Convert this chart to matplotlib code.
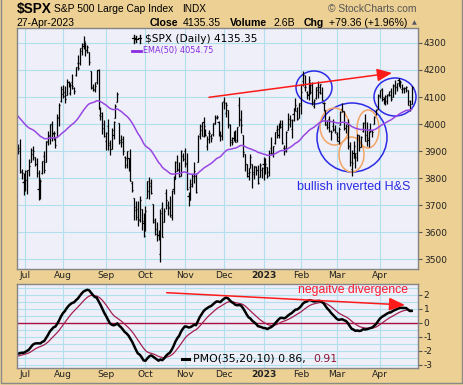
import numpy as np
import pandas as pd
import matplotlib
matplotlib.use("Agg")
import matplotlib.pyplot as plt
from matplotlib.patches import Ellipse, Rectangle
from matplotlib.lines import Line2D

plt.rcParams['axes.unicode_minus'] = False

# $SPX daily bars 27-Jun-2022 .. 27-Apr-2023 (one row per month)
opens = [
    3920, 3913, 3825, 3785,
    3781, 3792, 3831, 3859, 3888, 3880, 3851, 3762, 3763, 3819, 3883, 3860, 3935, 3955, 3999, 3966, 3954, 3951, 4026, 4087,
    4112, 4105, 4107, 4154, 4116, 4156, 4133, 4181, 4227, 4225, 4270, 4290, 4281, 4273, 4267, 4195, 4134, 4126, 4154, 4199, 4034, 4041, 4001,
    3937, 3994, 3930, 3909, 3959, 4022, 4083, 4005, 3940, 3933, 3880, 3849, 3875, 3872, 3782, 3727, 3682, 3686, 3651, 3687, 3633,
    3610, 3728, 3754, 3771, 3706, 3647, 3595, 3590, 3521, 3690, 3638, 3746, 3703, 3689, 3657, 3762, 3799, 3825, 3835, 3808, 3882,
    3901, 3853, 3734, 3766, 3780, 3817, 3810, 3859, 3963, 3977, 4007, 3976, 3920, 3967, 3956, 3965, 4001, 4024, 4006, 3964, 3958,
    4087, 4041, 4052, 3996, 3934, 3947, 3954, 3940, 4069, 4016, 3958, 3890, 3853, 3810, 3839, 3853, 3815, 3843, 3829, 3805, 3829,
    3853, 3840, 3840, 3823, 3910, 3888, 3932, 3977, 3960, 3999, 4002, 3911, 3910, 3979, 4001, 3982, 4036, 4053, 4049, 4021,
    4071, 4158, 4136, 4119, 4106, 4153, 4144, 4068, 4096, 4127, 4119, 4115, 4077, 4052, 4002, 4019, 3973, 3992, 3977,
    3963, 3938, 3998, 4055, 4049, 3987, 3999, 3918, 3835, 3895, 3876, 3878, 3958, 3917, 3975, 4003, 3959, 3940, 3982, 3974, 3999, 4047, 4056,
    4102, 4128, 4094, 4081, 4085, 4111, 4121, 4101, 4140, 4137, 4164, 4140, 4131, 4133, 4132, 4126, 4087, 4075,
]
highs = [
    3927, 3945, 3836, 3818,
    3829, 3832, 3870, 3910, 3918, 3880, 3873, 3829, 3796, 3863, 3902, 3939, 3975, 3999, 4012, 3975, 3954, 4039, 4078, 4140,
    4144, 4140, 4167, 4161, 4152, 4186, 4137, 4211, 4257, 4281, 4301, 4325, 4302, 4293, 4267, 4195, 4150, 4156, 4200, 4204, 4062, 4044, 4015,
    3970, 4019, 3942, 3987, 4011, 4076, 4119, 4005, 3961, 3956, 3881, 3900, 3876, 3907, 3790, 3727, 3716, 3717, 3736, 3687, 3671,
    3698, 3791, 3806, 3798, 3706, 3652, 3640, 3608, 3685, 3712, 3689, 3762, 3717, 3736, 3758, 3810, 3862, 3886, 3859, 3905, 3893,
    3911, 3894, 3750, 3797, 3814, 3859, 3818, 3959, 4001, 4008, 4028, 3983, 3955, 3979, 3962, 4005, 4034, 4035, 4012, 3976, 4081,
    4101, 4080, 4053, 4002, 3951, 3974, 3977, 3991, 4100, 4053, 3959, 3890, 3854, 3839, 3889, 3853, 3845, 3846, 3849, 3858, 3840,
    3879, 3873, 3840, 3906, 3951, 3920, 3970, 3998, 4003, 4015, 4015, 3922, 3973, 4040, 4033, 4020, 4061, 4095, 4063, 4077,
    4148, 4195, 4182, 4124, 4176, 4156, 4157, 4094, 4138, 4159, 4149, 4136, 4081, 4052, 4017, 4029, 3979, 4018, 3997,
    3972, 3990, 4048, 4079, 4050, 4000, 4018, 3935, 3906, 3937, 3894, 3964, 3959, 3956, 4009, 4039, 4007, 3973, 4003, 3979, 4030, 4057, 4110,
    4127, 4133, 4099, 4107, 4110, 4124, 4133, 4150, 4164, 4152, 4169, 4162, 4149, 4138, 4142, 4126, 4089, 4139,
]
lows = [
    3889, 3820, 3799, 3738,
    3752, 3742, 3809, 3859, 3867, 3847, 3803, 3721, 3723, 3817, 3818, 3860, 3922, 3926, 3938, 3940, 3910, 3951, 3992, 4080,
    4097, 4079, 4107, 4136, 4108, 4129, 4112, 4177, 4201, 4219, 4257, 4278, 4253, 4262, 4218, 4130, 4123, 4120, 4147, 4057, 4017, 3965, 3954,
    3904, 3906, 3886, 3907, 3944, 4022, 4083, 3928, 3915, 3887, 3837, 3839, 3827, 3789, 3749, 3647, 3644, 3623, 3640, 3610, 3584,
    3604, 3728, 3723, 3741, 3633, 3589, 3569, 3572, 3491, 3582, 3638, 3686, 3666, 3657, 3647, 3741, 3799, 3825, 3803, 3808, 3863,
    3843, 3758, 3698, 3721, 3769, 3784, 3745, 3859, 3944, 3957, 3953, 3955, 3906, 3930, 3933, 3956, 3999, 4020, 3956, 3937, 3943,
    4057, 4026, 3984, 3918, 3922, 3936, 3933, 3935, 3994, 3966, 3879, 3827, 3803, 3795, 3839, 3764, 3798, 3813, 3780, 3805, 3800,
    3795, 3815, 3802, 3809, 3890, 3877, 3925, 3949, 3947, 3984, 3926, 3886, 3898, 3979, 3990, 3950, 4013, 4049, 4015, 4021,
    4038, 4141, 4123, 4094, 4089, 4111, 4070, 4060, 4092, 4095, 4113, 4090, 4048, 3995, 3981, 3971, 3943, 3973, 3969,
    3939, 3928, 3998, 4044, 3980, 3969, 3909, 3846, 3809, 3874, 3838, 3864, 3901, 3916, 3972, 3936, 3919, 3917, 3971, 3951, 3999, 4033, 4056,
    4097, 4086, 4073, 4069, 4073, 4103, 4087, 4100, 4113, 4124, 4139, 4135, 4115, 4114, 4117, 4071, 4049, 4075,
]
closes = [
    3900.11, 3821.55, 3818.83, 3785.38,
    3825.33, 3831.39, 3845.08, 3902.62, 3899.38, 3854.43, 3818.80, 3801.78, 3790.38, 3863.16, 3830.85, 3936.69, 3959.90, 3998.95, 3961.63, 3966.84, 3921.05, 4023.61, 4072.43, 4130.29,
    4118.63, 4091.19, 4155.17, 4151.94, 4145.19, 4140.06, 4122.47, 4210.24, 4207.27, 4280.15, 4297.14, 4305.20, 4274.04, 4283.74, 4228.48, 4137.99, 4128.73, 4140.77, 4199.12, 4057.66, 4030.61, 3986.16, 3955.00,
    3966.85, 3924.26, 3908.19, 3979.87, 4006.18, 4067.36, 4110.41, 3932.69, 3946.01, 3901.35, 3873.33, 3899.89, 3855.93, 3789.93, 3757.99, 3693.23, 3655.04, 3647.29, 3719.04, 3640.47, 3585.62,
    3678.43, 3790.93, 3783.28, 3744.52, 3639.66, 3612.39, 3588.84, 3577.03, 3669.91, 3583.07, 3677.95, 3719.98, 3695.16, 3665.78, 3752.75, 3797.34, 3859.11, 3830.60, 3807.30, 3901.06, 3871.98,
    3856.10, 3759.69, 3719.89, 3770.55, 3806.80, 3828.11, 3748.57, 3956.37, 3992.93, 3957.25, 3991.73, 3958.79, 3946.56, 3965.34, 3949.94, 4003.58, 4027.26, 4026.12, 3963.94, 3957.63, 4080.11,
    4076.57, 4071.70, 3998.84, 3941.26, 3933.92, 3963.51, 3934.38, 3990.56, 4019.65, 3995.32, 3895.75, 3852.36, 3817.66, 3821.62, 3878.44, 3822.39, 3844.82, 3829.25, 3783.22, 3849.28, 3839.50,
    3824.14, 3852.97, 3808.10, 3895.08, 3892.09, 3919.25, 3969.61, 3983.17, 3999.09, 3990.97, 3928.86, 3898.85, 3972.61, 4019.81, 4016.95, 4016.22, 4060.43, 4070.56, 4017.77, 4076.60,
    4119.21, 4179.76, 4136.48, 4111.08, 4164.00, 4117.86, 4081.50, 4090.46, 4137.29, 4136.13, 4147.60, 4090.41, 4079.09, 3997.34, 3991.05, 4012.32, 3970.04, 3982.24, 3970.15,
    3951.39, 3981.35, 4045.64, 4048.42, 3986.37, 3992.01, 3918.32, 3861.59, 3855.76, 3919.29, 3891.93, 3960.28, 3916.64, 3951.57, 4002.87, 3936.97, 3948.72, 3970.99, 3977.53, 3971.27, 4027.81, 4050.83, 4109.31,
    4124.51, 4100.60, 4090.38, 4105.02, 4109.11, 4108.94, 4091.95, 4146.22, 4137.64, 4151.32, 4154.87, 4154.52, 4129.79, 4133.52, 4137.04, 4071.63, 4055.99, 4135.35,
]
prev_close = 3911.74          # 24-Jun-2022 close
holidays = ["2022-07-04", "2022-09-05", "2022-11-24", "2022-12-26",
            "2023-01-02", "2023-01-16", "2023-02-20", "2023-04-07"]

# indicator state on 24-Jun-2022 (before first bar)
ema_start = 4035.0
pmo_start = (-0.06, -2.36, -2.40)   # smoothed roc, pmo, signal

dates = pd.bdate_range("2022-06-27", "2023-04-27")
dates = dates[~dates.isin(pd.to_datetime(holidays))]
n = len(closes)
assert len(dates) == n == len(opens) == len(highs) == len(lows)
idx = np.arange(n)
o, h, l, c = map(np.array, (opens, highs, lows, closes))

# EMA(50)
ema = []
e = ema_start
for v in closes:
    e += 2 / 51 * (v - e)
    ema.append(e)

# PMO(35,20,10)
s1, pmo_v, sig_v = pmo_start
pmo, sig = [], []
p = prev_close
for v in closes:
    roc = v / p * 100 - 100
    p = v
    s1 += 2 / 35 * (roc - s1)
    pmo_v += 2 / 20 * (10 * s1 - pmo_v)
    sig_v += 2 / 11 * (pmo_v - sig_v)
    pmo.append(pmo_v)
    sig.append(sig_v)

per = dates.to_period("M")
month_idx = [i for i in range(1, n) if per[i] != per[i - 1]]
month_lbl = ["2023" if dates[i].month == 1 else dates[i].strftime("%b") for i in month_idx]

# ---- layout (pixel helpers) ----
W, H = 464, 385
TAN = '#EDD093'
PANEL = '#EEEFF8'
GRID = '#B2DFEE'
EDGE = '#858585'

def fx(px):
    return px / W

def fy(py):
    return 1 - py / H

# x pixel = 17.9 + 1.875*idx
X0, DX = 17.9, 1.875
def dx(px):
    return (px - X0) / DX

def dy(py):  # main panel price
    return 4300 - (py - 42.9) / 0.2707

def dy2(py):  # pmo panel
    return (323 - py) / 14.0

fig = plt.figure(figsize=(W / 100, H / 100), dpi=100, facecolor=TAN)
ax = fig.add_axes([fx(17), fy(269), fx(418) - fx(17), fy(28) - fy(269)])
ax2 = fig.add_axes([fx(17), fy(368), fx(418) - fx(17), fy(284) - fy(368)])

for a in (ax, ax2):
    a.set_facecolor(PANEL)
    a.set_xlim(dx(17), dx(418))
    a.set_xticks(month_idx)
    a.set_xticklabels(month_lbl)
    a.tick_params(axis='x', length=0, pad=1.5, labelsize=6.6, colors='#222222')
    for t, s in zip(a.get_xticklabels(), month_lbl):
        if s == "2023":
            t.set_fontweight('bold')
    a.yaxis.tick_right()
    a.tick_params(axis='y', which='major', length=3, width=0.8, color='#555555',
                  pad=1.2, labelsize=6.5, labelcolor='#222222')
    a.tick_params(axis='y', which='minor', length=0)
    a.grid(True, which='both', color=GRID, lw=0.8)
    a.set_axisbelow(True)
    for sp in a.spines.values():
        sp.set_color(EDGE)
        sp.set_linewidth(1.0)

# ---- price panel ----
ax.set_ylim(dy(269), dy(28))
ax.set_yticks(np.arange(3500, 4301, 100))
ax.vlines(idx, l, h, color='black', lw=0.9)
ax.hlines(o, idx - 0.55, idx, color='black', lw=0.9)
ax.hlines(c, idx, idx + 0.55, color='black', lw=0.9)
ax.plot(idx, ema, color='#9847E2', lw=1.1)

# legend
fig.text(fx(145), fy(39), "$SPX (Daily) 4135.35", fontsize=7.6, va='center', color='black')
fig.text(fx(143), fy(50.5), "EMA(50) 4054.75", fontsize=5.9, va='center', color='#8A2BE2')
fig.add_artist(Line2D([fx(132), fx(141)], [fy(50.5), fy(50.5)], color='#8A2BE2', lw=2))
for xx, y1, y2 in ((133.5, 35, 43), (136.5, 36, 42), (139.5, 35, 43)):
    fig.add_artist(Line2D([fx(xx), fx(xx)], [fy(y1), fy(y2)], color='black', lw=1))
    fig.add_artist(Line2D([fx(xx - 1.2), fx(xx + 1.2)], [fy(y1 + 3), fy(y1 + 3)], color='black', lw=0.8))

# annotations
ax.annotate('', xy=(dx(392), dy(73)), xytext=(dx(209), dy(97.3)),
            arrowprops=dict(arrowstyle='-|>,head_length=0.75,head_width=0.32', color='#FF1A1A',
                            lw=1.1, mutation_scale=12, shrinkA=0, shrinkB=0))
BLUE = '#2B2BE6'
ORANGE = '#F2A565'
for cx, cy, rx, ry, col in ((314, 87.5, 18, 16.5, BLUE), (395, 97, 21, 19, BLUE),
                            (352, 137.5, 35, 34.5, BLUE), (334.5, 126.5, 14.5, 18.5, ORANGE),
                            (351.5, 154.5, 12.5, 17.5, ORANGE), (368, 129, 11, 19, ORANGE)):
    ax.add_patch(Ellipse((dx(cx), dy(cy)), 2 * rx / DX, 2 * ry / 0.2707,
                         fill=False, edgecolor=col, lw=1.1))
ax.text(dx(297), dy(187), "bullish inverted H&S", color=BLUE, fontsize=9,
        family='Liberation Sans', va='center', ha='left')

# ---- PMO panel ----
ax2.set_ylim(dy2(368), dy2(284))
ax2.set_yticks(np.arange(-3, 3, 1))
ax2.set_yticks(np.arange(-3, 3, 0.5), minor=True)
ax2.axhline(0, color='#AA1040', lw=1.0)
ax2.plot(idx, sig, color='#A52050', lw=0.9)
ax2.plot(idx, pmo, color='black', lw=1.8)
ax2.annotate('', xy=(dx(405), dy2(305)), xytext=(dx(166.7), dy2(292.7)),
             arrowprops=dict(arrowstyle='-|>,head_length=0.8,head_width=0.33', color='#FF1A1A',
                             lw=1.1, mutation_scale=12, shrinkA=0, shrinkB=0))
ax2.text(dx(298), dy2(290), "negaitve divergence", color='#FF1A2E', fontsize=8.8,
         family='Liberation Sans', va='center', ha='left')
fig.add_artist(Line2D([fx(182), fx(189)], [fy(358.5), fy(358.5)], color='black', lw=2.2))
fig.text(fx(193), fy(358.5), "PMO(35,20,10) 0.86,", fontsize=7.8, va='center', color='black')
fig.text(fx(313), fy(358.5), "0.91", fontsize=7.8, va='center', color='#8B1538')

# ---- header ----
HF = 'Liberation Sans'
fig.text(fx(17), fy(9), "$SPX", fontsize=9.8, fontweight='bold', family=HF, va='center')
fig.text(fx(54), fy(9), "S&P 500 Large Cap Index", fontsize=7.4, family=HF, va='center')
fig.text(fx(182), fy(9), "INDX", fontsize=7.2, family=HF, va='center')
fig.text(fx(417), fy(9), "\u00a9 StockCharts.com", fontsize=7.4, family=HF, va='center',
         ha='right', color='#555555')
fig.text(fx(16), fy(23), "27-Apr-2023", fontsize=7.5, family=HF, va='center')
for xp, s, wgt in ((150, "Close", 'bold'), (183, "4135.35", 'normal'),
                   (230, "Volume", 'bold'), (274, "2.6B", 'normal'),
                   (304, "Chg", 'bold'), (329, "+79.36 (+1.96%)", 'normal')):
    fig.text(fx(xp), fy(23), s, fontsize=7.6, fontweight=wgt, family=HF, va='center')
fig.text(fx(414), fy(23), "\u25b2", fontsize=4.5, family='DejaVu Sans', va='center',
         ha='center', color='#555566')

fig.add_artist(Rectangle((fx(1.5), fy(382.5)), fx(461), fy(1) - fy(382.5) + 0.01,
                         fill=False, edgecolor='#8A8A8A', lw=1, transform=fig.transFigure))

fig.savefig("out.png", dpi=100, facecolor=TAN)
